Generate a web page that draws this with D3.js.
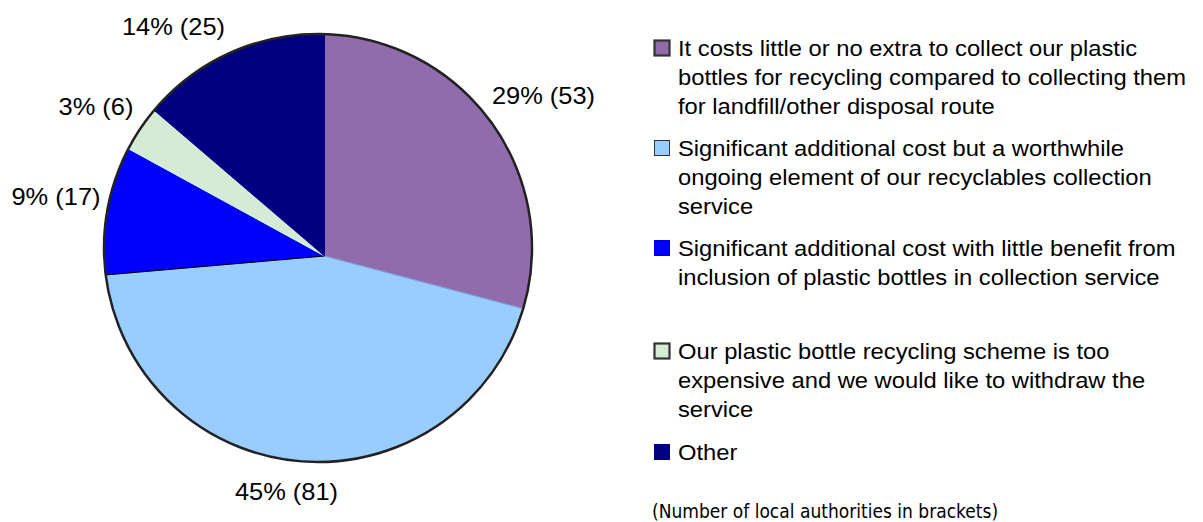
<!DOCTYPE html>
<html>
<head>
<meta charset="utf-8">
<script src="https://cdn.jsdelivr.net/npm/d3@7"></script>
<style>
  html, body { margin: 0; padding: 0; background: #fff; }
  svg { display: block; }
</style>
</head>
<body>
<svg id="chart" width="1203" height="522"></svg>
<script>
// ---- data ----
const categories = [
  "It costs little or no extra to collect our plastic bottles for recycling compared to collecting them for landfill/other disposal route",
  "Significant additional cost but a worthwhile ongoing element of our recyclables collection service",
  "Significant additional cost with little benefit from inclusion of plastic bottles in collection service",
  "Our plastic bottle recycling scheme is too expensive and we would like to withdraw the service",
  "Other"
];
const legendLines = [
  ["It costs little or no extra to collect our plastic", "bottles for recycling compared to collecting them", "for landfill/other disposal route"],
  ["Significant additional cost but a worthwhile", "ongoing element of our recyclables collection", "service"],
  ["Significant additional cost with little benefit from", "inclusion of plastic bottles in collection service"],
  ["Our plastic bottle recycling scheme is too", "expensive and we would like to withdraw the", "service"],
  ["Other"]
];
const counts = [53, 81, 17, 6, 25];
const footnote = "(Number of local authorities in brackets)";

// ---- styles / layout ----
const fills   = ["#916CAD", "#99CCFF", "#0000FF", "#D6EBD6", "#000080"];
const edges   = ["#9999FF", "#7799CC", "#000000", "#CCFFFF", "#000080"];
const boxStroke = ["#333333", "#333333", "#0000CC", "#333333", "#000080"];
const boxStrokeW = [2.2, 1, 1, 2.2, 1];

const svg = d3.select("#chart");
const C = {x: 318, y: 248};   // outline circle centre
const R = 214;
const V = {x: 324.5, y: 256}; // point where slices meet

const total = d3.sum(counts);
const pie = d3.pie().sort(null).value(d => d);
const arcs = pie(counts);

function edgePoint(a) {
  const dx = Math.sin(a), dy = -Math.cos(a);
  const wx = V.x - C.x, wy = V.y - C.y;
  const b = dx * wx + dy * wy;
  const c = wx * wx + wy * wy - R * R;
  const t = -b + Math.sqrt(b * b - c);
  return {x: V.x + t * dx, y: V.y + t * dy};
}
function slicePath(d) {
  const p0 = edgePoint(d.startAngle), p1 = edgePoint(d.endAngle);
  const ang = p => Math.atan2(p.x - C.x, -(p.y - C.y));
  let span = ang(p1) - ang(p0);
  while (span < 0) span += 2 * Math.PI;
  const large = span > Math.PI ? 1 : 0;
  const p = d3.path();
  p.moveTo(V.x, V.y);
  p.lineTo(p0.x, p0.y);
  return p.toString() + `A${R},${R} 0 ${large} 1 ${p1.x},${p1.y}Z`;
}

const g = svg.append("g");
g.selectAll("path.slice").data(arcs).join("path")
  .attr("class", "slice")
  .attr("d", slicePath)
  .attr("fill", (d, i) => fills[i])
  .attr("stroke", (d, i) => edges[i])
  .attr("stroke-width", 1)
  .attr("stroke-linejoin", "round");

g.append("circle")
  .attr("cx", C.x).attr("cy", C.y).attr("r", R)
  .attr("fill", "none").attr("stroke", "#222").attr("stroke-width", 2.5);

// ---- data labels ----
const labelPos = [[543.5, 104], [286.5, 500], [56, 205], [96, 115], [173.5, 35]];
svg.append("g").selectAll("text").data(arcs).join("text")
  .attr("transform", (d, i) => `translate(${labelPos[i][0]},${labelPos[i][1]}) scale(1.06,1)`)
  .attr("text-anchor", "middle")
  .attr("font-family", "Liberation Sans, Arial, sans-serif")
  .attr("font-size", 24)
  .attr("fill", "#000")
  .text(d => `${Math.round(d.value / total * 100)}% (${d.value})`);

// ---- legend ----
const itemTop = [56, 156, 256, 359, 460];
const lineH = 29;
const leg = svg.append("g");
legendLines.forEach((lines, i) => {
  const base = itemTop[i];
  leg.append("rect")
    .attr("x", 654.5).attr("y", base - 15.5)
    .attr("width", 15).attr("height", 15)
    .attr("fill", fills[i])
    .attr("stroke", boxStroke[i]).attr("stroke-width", boxStrokeW[i]);
  lines.forEach((ln, j) => {
    leg.append("text")
      .attr("transform", `translate(678,${base + j * lineH}) scale(1.08,1)`)
      .attr("font-family", "Liberation Sans, Arial, sans-serif")
      .attr("font-size", 22)
      .attr("fill", "#000")
      .text(ln);
  });
});

svg.append("text")
  .attr("x", 652).attr("y", 518)
  .attr("font-family", "DejaVu Sans Condensed, DejaVu Sans, sans-serif")
  .attr("font-size", 19)
  .attr("fill", "#000")
  .text(footnote);
</script>
</body>
</html>
